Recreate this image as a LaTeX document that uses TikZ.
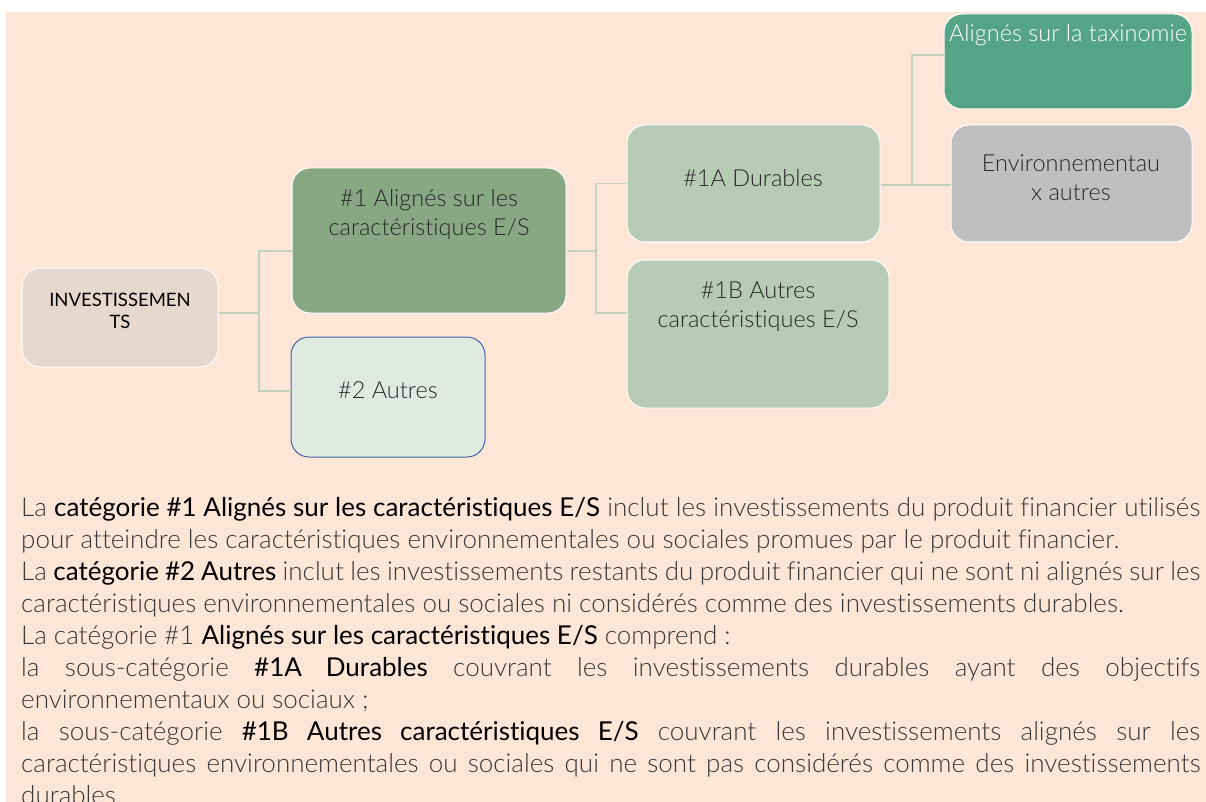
\documentclass[tikz,border=0pt]{standalone}
\usepackage{fontspec}
\IfFontExistsTF{Lato Light}{\setmainfont{Lato Light}[BoldFont={Lato},Ligatures=NoCommon]\newfontfamily\latoreg{Lato}[Ligatures=NoCommon]}{\setmainfont{Lato}[Ligatures=NoCommon]\newfontfamily\latoreg{Lato}}
\definecolor{peach}{RGB}{253,230,214}
\definecolor{invfill}{RGB}{230,216,204}
\definecolor{cAfill}{RGB}{136,168,132}
\definecolor{cBfill}{RGB}{224,234,226}
\definecolor{cBline}{RGB}{68,98,170}
\definecolor{subfill}{RGB}{184,203,181}
\definecolor{taxfill}{RGB}{85,164,135}
\definecolor{envfill}{RGB}{191,191,191}
\definecolor{connc}{RGB}{192,212,186}
\definecolor{txtc}{RGB}{40,40,40}
\definecolor{bodyc}{RGB}{55,55,55}
\tikzset{
  box/.style={draw=white, line width=1pt, rounded corners=18pt, inner sep=0pt},
  conn/.style={draw=connc, line width=1.4pt},
  lbl/.style={align=center, text=txtc, inner sep=0pt, font=\fontsize{23.5}{29}\selectfont},
}
\begin{document}
\begin{tikzpicture}[x=1pt,y=-1pt]
\useasboundingbox (0,0) rectangle (1206,802);
\fill[peach] (6,12) rectangle (1206,802);
% boxes
\node[box, fill=invfill, minimum width=196pt, minimum height=99pt] (inv) at (120,317.5) {};
\node[box, fill=cAfill, minimum width=274pt, minimum height=145pt] (c1) at (429,240.5) {};
\node[box, draw=cBline, fill=cBfill, minimum width=194pt, minimum height=120pt] (c2) at (388,397) {};
\node[box, fill=subfill, minimum width=253pt, minimum height=117pt] (c1a) at (753.5,183.5) {};
\node[box, fill=subfill, minimum width=262pt, minimum height=148pt] (c1b) at (758,334) {};
\node[box, fill=taxfill, minimum width=248pt, minimum height=95pt] (tax) at (1068,61.5) {};
\node[box, fill=envfill, minimum width=241pt, minimum height=117pt] (env) at (1071.5,183.5) {};
% labels
\node[lbl, text=black, font=\latoreg\fontsize{18.5}{22}\selectfont] (tinv) at (120,311) {INVESTISSEMEN\\TS};
\node[lbl] (tc1) at (429,214.5) {\#1 Alignés sur les\\caractéristiques E/S};
\node[lbl] (tc2) at (388,390) {\#2 Autres};
\node[lbl] (tc1a) at (753,178) {\#1A Durables};
\node[lbl] (tc1b) at (758,306.5) {\#1B Autres\\caractéristiques E/S};
\node[lbl, text=white] (ttax) at (1068,35) {Alignés sur la taxinomie};
\node[lbl] (tenv) at (1071,177.5) {Environnementau\\x autres};
% connectors
\coordinate (ja) at (259,313);
\coordinate (jb) at (596,251);
\coordinate (jc) at (912,185);
\draw[conn] ([yshift=4.5pt]inv.east) -- (ja);
\draw[conn] (ja) |- ([yshift=-10.5pt]c1.west);
\draw[conn] (ja) |- ([yshift=6pt]c2.west);
\draw[conn] ([yshift=-10.5pt]c1.east) -- (jb);
\draw[conn] (jb) |- (c1a.west);
\draw[conn] (jb) |- ([yshift=21pt]c1b.west);
\draw[conn] ([yshift=-1.5pt]c1a.east) -- (jc);
\draw[conn] (jc) |- ([yshift=6.5pt]tax.west);
\draw[conn] (jc) -- ([yshift=-1.5pt]env.west);
% body text
\node[anchor=north west, inner sep=0pt, text width=1179pt, align=justify, text=bodyc,
      font=\fontsize{26}{32}\selectfont] (body) at (21,493.6) {%
\parindent=0pt\hyphenpenalty=10000\exhyphenpenalty=10000\tolerance=10000\hfuzz=20pt\strut
La \textcolor{black}{\textbf{catégorie \#1 Alignés sur les caractéristiques E/S}} inclut les investissements du produit financier utilisés\linebreak
pour atteindre les caractéristiques environnementales ou sociales promues par le produit financier.\par
La \textcolor{black}{\textbf{catégorie \#2 Autres}} inclut les investissements restants du produit financier qui ne sont ni alignés sur les\linebreak
caractéristiques environnementales ou sociales ni considérés comme des investissements durables.\par
La catégorie \#1 \textcolor{black}{\textbf{Alignés sur les caractéristiques E/S}} comprend :\par
la sous-catégorie \textcolor{black}{\textbf{\#1A Durables}} couvrant les investissements durables ayant des objectifs\linebreak
environnementaux ou sociaux ;\par
la sous-catégorie \textcolor{black}{\textbf{\#1B Autres caractéristiques E/S}} couvrant les investissements alignés sur les\linebreak
caractéristiques environnementales ou sociales qui ne sont pas considérés comme des investissements\linebreak
durables.\par};
\end{tikzpicture}
\end{document}
